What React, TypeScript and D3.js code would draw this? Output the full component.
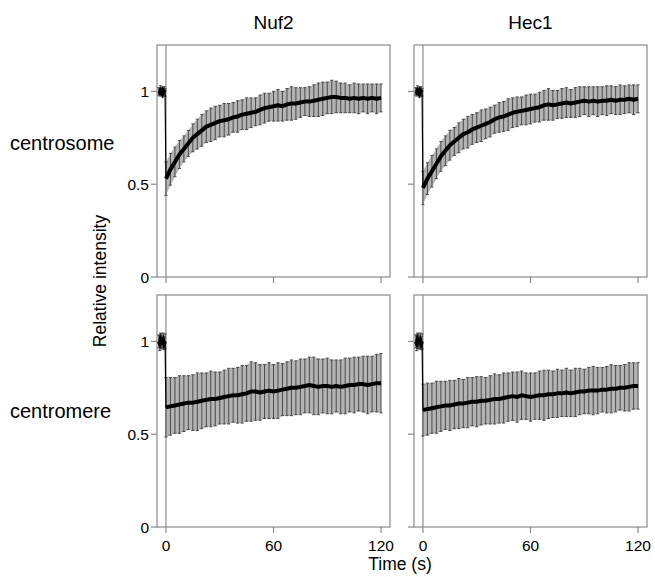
import * as d3 from "d3";

// time points (s)
const PRE_TIME = [-4, -3.5, -3, -2.5, -2, -1.5, -1, -0.5];
const TIME = [
  0, 2.5, 5, 7.5, 10, 12.5, 15, 17.5, 20, 22.5, 25, 27.5, 30, 32.5, 35, 37.5,
  40, 42.5, 45, 47.5, 50, 52.5, 55, 57.5, 60, 62.5, 65, 67.5, 70, 72.5, 75,
  77.5, 80, 82.5, 85, 87.5, 90, 92.5, 95, 97.5, 100, 102.5, 105, 107.5, 110,
  112.5, 115, 117.5, 120,
];

const COLUMNS = ["Nuf2", "Hec1"];
const ROWS = ["centrosome", "centromere"];
const Y_TICKS = [0, 0.5, 1];
const X_TICKS = [0, 60, 120];

// pre-bleach values
const PRE_CS_MEAN = [1.0, 0.995, 1.005, 1.0, 0.99, 1.005, 1.0, 0.995];
const PRE_CS_ERR = [0.02, 0.02, 0.025, 0.02, 0.02, 0.02, 0.025, 0.02];
const PRE_CM_MEAN = [1.0, 0.99, 1.01, 1.0, 0.995, 1.005, 0.99, 1.0];
const PRE_CM_ERR = [0.035, 0.04, 0.035, 0.04, 0.035, 0.04, 0.035, 0.04];

// Nuf2 centrosome
const NUF2_CS_MEAN = [
  0.53, 0.58, 0.62, 0.66, 0.69, 0.72, 0.75, 0.77, 0.79, 0.81,
  0.82, 0.83, 0.84, 0.845, 0.85, 0.86, 0.865, 0.875, 0.88, 0.885,
  0.89, 0.9, 0.91, 0.915, 0.92, 0.925, 0.92, 0.93, 0.935, 0.935,
  0.94, 0.945, 0.945, 0.95, 0.955, 0.96, 0.965, 0.97, 0.97, 0.965,
  0.965, 0.96, 0.965, 0.96, 0.965, 0.96, 0.965, 0.96, 0.965,
];
const NUF2_CS_ERR = [
  0.09, 0.085, 0.08, 0.075, 0.07, 0.07, 0.075, 0.08, 0.085, 0.085,
  0.09, 0.09, 0.085, 0.09, 0.085, 0.08, 0.085, 0.08, 0.085, 0.08,
  0.075, 0.08, 0.08, 0.075, 0.08, 0.085, 0.08, 0.085, 0.09, 0.085,
  0.08, 0.075, 0.08, 0.085, 0.09, 0.09, 0.085, 0.09, 0.085, 0.08,
  0.08, 0.075, 0.08, 0.08, 0.075, 0.08, 0.075, 0.08, 0.075,
];

// Hec1 centrosome
const HEC1_CS_MEAN = [
  0.48, 0.53, 0.57, 0.61, 0.65, 0.68, 0.71, 0.73, 0.75, 0.77,
  0.78, 0.795, 0.805, 0.815, 0.825, 0.835, 0.85, 0.86, 0.865, 0.875,
  0.885, 0.89, 0.895, 0.9, 0.905, 0.91, 0.915, 0.925, 0.93, 0.925,
  0.93, 0.935, 0.94, 0.935, 0.94, 0.945, 0.95, 0.945, 0.95, 0.945,
  0.95, 0.95, 0.955, 0.95, 0.955, 0.955, 0.96, 0.955, 0.96,
];
const HEC1_CS_ERR = [
  0.09, 0.085, 0.085, 0.08, 0.08, 0.08, 0.08, 0.075, 0.08, 0.08,
  0.085, 0.08, 0.08, 0.085, 0.08, 0.08, 0.075, 0.08, 0.08, 0.085,
  0.08, 0.08, 0.075, 0.08, 0.08, 0.075, 0.08, 0.08, 0.085, 0.08,
  0.075, 0.08, 0.08, 0.075, 0.08, 0.08, 0.075, 0.08, 0.075, 0.08,
  0.075, 0.08, 0.075, 0.075, 0.08, 0.075, 0.075, 0.08, 0.075,
];

// Nuf2 centromere
const NUF2_CM_MEAN = [
  0.645, 0.65, 0.655, 0.66, 0.665, 0.67, 0.67, 0.675, 0.68, 0.685,
  0.69, 0.69, 0.695, 0.7, 0.705, 0.71, 0.71, 0.715, 0.72, 0.73,
  0.73, 0.725, 0.73, 0.735, 0.73, 0.735, 0.74, 0.745, 0.75, 0.75,
  0.755, 0.76, 0.765, 0.76, 0.755, 0.76, 0.76, 0.755, 0.76, 0.755,
  0.76, 0.765, 0.765, 0.77, 0.77, 0.765, 0.77, 0.775, 0.775,
];
const NUF2_CM_ERR = [
  0.16, 0.155, 0.15, 0.155, 0.15, 0.145, 0.15, 0.155, 0.15, 0.145,
  0.15, 0.145, 0.14, 0.145, 0.15, 0.145, 0.15, 0.155, 0.15, 0.16,
  0.155, 0.15, 0.145, 0.15, 0.145, 0.15, 0.14, 0.145, 0.15, 0.145,
  0.15, 0.145, 0.15, 0.155, 0.15, 0.145, 0.15, 0.145, 0.14, 0.145,
  0.15, 0.145, 0.15, 0.145, 0.15, 0.155, 0.15, 0.155, 0.16,
];

// Hec1 centromere
const HEC1_CM_MEAN = [
  0.63, 0.635, 0.64, 0.645, 0.65, 0.655, 0.655, 0.66, 0.665, 0.665,
  0.67, 0.675, 0.675, 0.68, 0.68, 0.685, 0.69, 0.69, 0.695, 0.7,
  0.705, 0.7, 0.71, 0.705, 0.7, 0.705, 0.71, 0.71, 0.715, 0.715,
  0.72, 0.72, 0.725, 0.72, 0.725, 0.73, 0.73, 0.735, 0.735, 0.735,
  0.74, 0.74, 0.745, 0.745, 0.75, 0.75, 0.755, 0.76, 0.76,
];
const HEC1_CM_ERR = [
  0.14, 0.14, 0.135, 0.14, 0.135, 0.13, 0.135, 0.13, 0.135, 0.13,
  0.135, 0.13, 0.135, 0.13, 0.125, 0.13, 0.135, 0.13, 0.135, 0.13,
  0.13, 0.135, 0.13, 0.125, 0.13, 0.125, 0.13, 0.135, 0.13, 0.125,
  0.13, 0.125, 0.13, 0.125, 0.13, 0.125, 0.12, 0.125, 0.13, 0.125,
  0.12, 0.125, 0.13, 0.125, 0.12, 0.125, 0.13, 0.125, 0.125,
];

const FONT = "'Liberation Sans', Arial, Helvetica, sans-serif";

type Pt = { t: number; m: number; e: number };

function toPoints(times: number[], mean: number[], err: number[]): Pt[] {
  return times.map((t, i) => ({ t, m: mean[i], e: err[i] }));
}

function Panel({ x0, y0, w, h, pre, post, yLabels, xLabels }) {
  const x = d3.scaleLinear().domain([-5, 125]).range([x0, x0 + w]);
  const y = d3.scaleLinear().domain([0, 1.25]).range([y0 + h, y0]);
  const all: Pt[] = [...pre, ...post];
  const line = d3
    .line<Pt>()
    .x((d) => x(d.t))
    .y((d) => y(d.m));
  const band = d3
    .area<Pt>()
    .x((d) => x(d.t))
    .y0((d) => y(d.m - d.e))
    .y1((d) => y(d.m + d.e));
  const axisColor = "#8a8a8a";
  return (
    <g>
      <rect x={x0} y={y0} width={w} height={h} fill="none" stroke={axisColor} strokeWidth={1.2} />
      <line x1={x(0)} x2={x(0)} y1={y0} y2={y0 + h} stroke={axisColor} strokeWidth={1.2} />
      {Y_TICKS.map((v) => (
        <g key={"y" + v}>
          <line x1={x0 - 6} x2={x0} y1={y(v)} y2={y(v)} stroke={axisColor} strokeWidth={1.2} />
          {yLabels && (
            <text x={x0 - 8} y={y(v)} dy="0.36em" textAnchor="end" fontSize={15.5} fontFamily={FONT}>
              {v}
            </text>
          )}
        </g>
      ))}
      {X_TICKS.map((v) => (
        <g key={"x" + v}>
          <line x1={x(v)} x2={x(v)} y1={y0 + h} y2={y0 + h + 6} stroke={axisColor} strokeWidth={1.2} />
          {xLabels && (
            <text x={x(v)} y={y0 + h + 24} textAnchor="middle" fontSize={15.5} fontFamily={FONT}>
              {v}
            </text>
          )}
        </g>
      ))}
      <path d={band(post) || ""} fill="#b4b4b4" />
      <path d={band(pre) || ""} fill="#b4b4b4" />
      {all.map((d, i) => (
        <g key={i} stroke="#4a4a4a" strokeWidth={1}>
          <line x1={x(d.t)} x2={x(d.t)} y1={y(d.m - d.e)} y2={y(d.m + d.e)} />
          <line x1={x(d.t) - 1.6} x2={x(d.t) + 1.6} y1={y(d.m - d.e)} y2={y(d.m - d.e)} />
          <line x1={x(d.t) - 1.6} x2={x(d.t) + 1.6} y1={y(d.m + d.e)} y2={y(d.m + d.e)} />
        </g>
      ))}
      <path d={line(all) || ""} fill="none" stroke="#000" strokeWidth={1.2} />
      <path d={line(pre) || ""} fill="none" stroke="#000" strokeWidth={4} />
      <path d={line(post) || ""} fill="none" stroke="#000" strokeWidth={4} strokeLinejoin="round" />
    </g>
  );
}

export default function App() {
  const width = 655;
  const height = 577;
  const panelX = [157, 414];
  const panelY = [45, 295];
  const pw = 233;
  const ph = 232;

  const data = [
    [
      { pre: toPoints(PRE_TIME, PRE_CS_MEAN, PRE_CS_ERR), post: toPoints(TIME, NUF2_CS_MEAN, NUF2_CS_ERR) },
      { pre: toPoints(PRE_TIME, PRE_CS_MEAN, PRE_CS_ERR), post: toPoints(TIME, HEC1_CS_MEAN, HEC1_CS_ERR) },
    ],
    [
      { pre: toPoints(PRE_TIME, PRE_CM_MEAN, PRE_CM_ERR), post: toPoints(TIME, NUF2_CM_MEAN, NUF2_CM_ERR) },
      { pre: toPoints(PRE_TIME, PRE_CM_MEAN, PRE_CM_ERR), post: toPoints(TIME, HEC1_CM_MEAN, HEC1_CM_ERR) },
    ],
  ];

  return (
    <svg
      width={width}
      height={height}
      style={{ position: "absolute", left: 0, top: 0, background: "#fff" }}
    >
      {COLUMNS.map((c, j) => (
        <text key={c} x={panelX[j] + pw / 2} y={29} textAnchor="middle" fontSize={19} fontFamily={FONT}>
          {c}
        </text>
      ))}
      {ROWS.map((r, i) => (
        <text key={r} x={10} y={i === 0 ? 150 : 418} fontSize={20} fontFamily={FONT}>
          {r}
        </text>
      ))}
      <text
        transform="translate(106,281) rotate(-90)"
        textAnchor="middle"
        fontSize={17.5}
        fontFamily={FONT}
      >
        Relative intensity
      </text>
      <text x={400} y={570} textAnchor="middle" fontSize={17.5} fontFamily={FONT}>
        Time (s)
      </text>
      {data.map((row, i) =>
        row.map((cell, j) => (
          <Panel
            key={i + "-" + j}
            x0={panelX[j]}
            y0={panelY[i]}
            w={pw}
            h={ph}
            pre={cell.pre}
            post={cell.post}
            yLabels={j === 0}
            xLabels={i === 1}
          />
        ))
      )}
    </svg>
  );
}
